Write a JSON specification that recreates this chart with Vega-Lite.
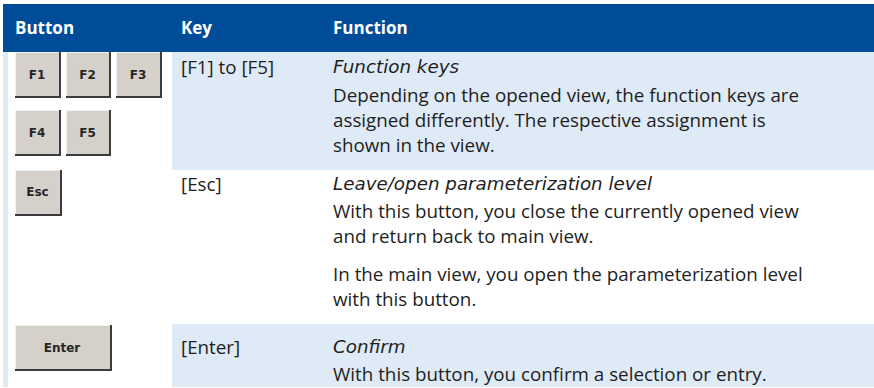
{
  "$schema": "https://vega.github.io/schema/vega-lite/v6.json",
  "width": 874,
  "height": 388,
  "padding": 0,
  "autosize": {"type": "fit", "contains": "padding"},
  "background": "white",
  "config": {"view": {"stroke": null}},
  "datasets": {
    "bands": [
      {"part": "header", "left": 3, "right": 874, "top": 4, "bottom": 52},
      {"part": "light", "left": 3, "right": 8, "top": 52, "bottom": 387},
      {"part": "light", "left": 172, "right": 874, "top": 52, "bottom": 170},
      {"part": "light", "left": 172, "right": 874, "top": 324, "bottom": 387}
    ],
    "buttons": [
      {"label": "F1", "left": 15, "right": 61, "top": 52, "bottom": 98, "cx": 37, "cy": 75},
      {"label": "F2", "left": 66, "right": 111, "top": 52, "bottom": 98, "cx": 87.5, "cy": 75},
      {"label": "F3", "left": 116, "right": 162, "top": 52, "bottom": 98, "cx": 138, "cy": 75},
      {"label": "F4", "left": 15, "right": 61, "top": 110, "bottom": 156, "cx": 37, "cy": 133},
      {"label": "F5", "left": 66, "right": 111, "top": 110, "bottom": 156, "cx": 87.5, "cy": 133},
      {"label": "Esc", "left": 15, "right": 62, "top": 170, "bottom": 216, "cx": 37.5, "cy": 192},
      {"label": "Enter", "left": 15, "right": 112, "top": 325, "bottom": 371, "cx": 62, "cy": 348}
    ],
    "texts": [
      {"kind": "header", "text": "Button", "left": 15, "line": 29},
      {"kind": "header", "text": "Key", "left": 181, "line": 29},
      {"kind": "header", "text": "Function", "left": 333, "line": 29},
      {"kind": "plain", "text": "[F1] to [F5]", "left": 181, "line": 68},
      {"kind": "italic", "text": "Function keys", "left": 333, "line": 68},
      {"kind": "plain", "text": "Depending on the opened view, the function keys are", "left": 333, "line": 96},
      {"kind": "plain", "text": "assigned differently. The respective assignment is", "left": 333, "line": 121},
      {"kind": "plain", "text": "shown in the view.", "left": 333, "line": 146},
      {"kind": "plain", "text": "[Esc]", "left": 181, "line": 185},
      {"kind": "italic", "text": "Leave/open parameterization level", "left": 333, "line": 185},
      {"kind": "plain", "text": "With this button, you close the currently opened view", "left": 333, "line": 212},
      {"kind": "plain", "text": "and return back to main view.", "left": 333, "line": 237},
      {"kind": "plain", "text": "In the main view, you open the parameterization level", "left": 333, "line": 275},
      {"kind": "plain", "text": "with this button.", "left": 333, "line": 300},
      {"kind": "plain", "text": "[Enter]", "left": 181, "line": 348},
      {"kind": "italic", "text": "Confirm", "left": 333, "line": 348},
      {"kind": "plain", "text": "With this button, you confirm a selection or entry.", "left": 333, "line": 375}
    ]
  },
  "layer": [
    {
      "data": {"name": "bands"},
      "mark": {"type": "rect"},
      "encoding": {
        "x": {"field": "left", "type": "quantitative", "scale": {"domain": [0, 874], "nice": false, "zero": false}, "axis": null},
        "x2": {"field": "right"},
        "y": {"field": "top", "type": "quantitative", "scale": {"domain": [0, 388], "nice": false, "zero": false, "reverse": true}, "axis": null},
        "y2": {"field": "bottom"},
        "color": {"field": "part", "type": "nominal", "scale": {"domain": ["header", "light"], "range": ["#004c99", "#deeaf5"]}, "legend": null}
      }
    },
    {
      "data": {"name": "buttons"},
      "mark": {"type": "rect", "color": "#3c3c3c"},
      "encoding": {
        "x": {"field": "left", "type": "quantitative"},
        "x2": {"field": "right"},
        "y": {"field": "top", "type": "quantitative"},
        "y2": {"field": "bottom"}
      }
    },
    {
      "data": {"name": "buttons"},
      "mark": {"type": "rect", "color": "#f4f2ee", "x2Offset": -2, "y2Offset": -2},
      "encoding": {
        "x": {"field": "left", "type": "quantitative"},
        "x2": {"field": "right"},
        "y": {"field": "top", "type": "quantitative"},
        "y2": {"field": "bottom"}
      }
    },
    {
      "data": {"name": "buttons"},
      "mark": {"type": "rect", "color": "#d5d1ca", "xOffset": 1, "yOffset": 1, "x2Offset": -2, "y2Offset": -2},
      "encoding": {
        "x": {"field": "left", "type": "quantitative"},
        "x2": {"field": "right"},
        "y": {"field": "top", "type": "quantitative"},
        "y2": {"field": "bottom"}
      }
    },
    {
      "data": {"name": "buttons"},
      "mark": {"type": "text", "font": "DejaVu Sans", "fontWeight": "bold", "fontSize": 12, "color": "#262626", "align": "center", "baseline": "middle"},
      "encoding": {
        "x": {"field": "cx", "type": "quantitative"},
        "y": {"field": "cy", "type": "quantitative"},
        "text": {"field": "label"}
      }
    },
    {
      "data": {"name": "texts"},
      "transform": [{"filter": "datum.kind === 'header'"}],
      "mark": {"type": "text", "font": "Open Sans", "fontWeight": "bold", "fontSize": 17, "color": "white", "align": "left", "baseline": "middle"},
      "encoding": {
        "x": {"field": "left", "type": "quantitative"},
        "y": {"field": "line", "type": "quantitative"},
        "text": {"field": "text"}
      }
    },
    {
      "data": {"name": "texts"},
      "transform": [{"filter": "datum.kind === 'plain'"}],
      "mark": {"type": "text", "font": "Open Sans", "fontSize": 18.8, "color": "#1e1e1e", "align": "left", "baseline": "middle"},
      "encoding": {
        "x": {"field": "left", "type": "quantitative"},
        "y": {"field": "line", "type": "quantitative"},
        "text": {"field": "text"}
      }
    },
    {
      "data": {"name": "texts"},
      "transform": [{"filter": "datum.kind === 'italic'"}],
      "mark": {"type": "text", "font": "DejaVu Sans", "fontStyle": "italic", "fontSize": 18.3, "color": "#1e1e1e", "align": "left", "baseline": "middle"},
      "encoding": {
        "x": {"field": "left", "type": "quantitative"},
        "y": {"field": "line", "type": "quantitative"},
        "text": {"field": "text"}
      }
    }
  ]
}
